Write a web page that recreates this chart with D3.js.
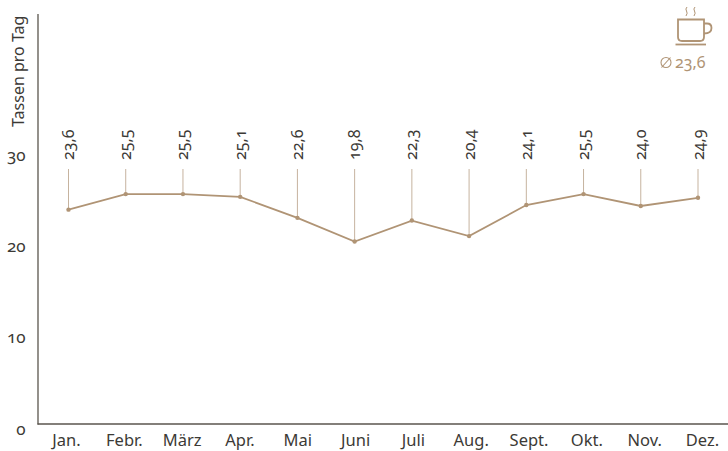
<!DOCTYPE html>
<html>
<head>
<meta charset="utf-8">
<script src="https://d3js.org/d3.v7.min.js"></script>
<style>
  html, body { margin: 0; padding: 0; background: #fff; }
  text { font-family: "Noto Sans", "Open Sans", sans-serif; font-variant-numeric: oldstyle-nums; font-feature-settings: "onum"; fill: #3c3a36; }
  .axis .domain { stroke: #5a554e; stroke-width: 1.3px; }
  .axis .tick line { display: none; }
</style>
</head>
<body>
<div id="chart"></div>
<script>
const months = ["Jan.", "Febr.", "März", "Apr.", "Mai", "Juni", "Juli", "Aug.", "Sept.", "Okt.", "Nov.", "Dez."];
const values = [23.5, 25.2, 25.2, 24.9, 22.6, 20.0, 22.3, 20.6, 24.0, 25.2, 23.9, 24.8];
const valueLabels = ["23,6", "25,5", "25,5", "25,1", "22,6", "19,8", "22,3", "20,4", "24,1", "25,5", "24,0", "24,9"];
const yTicks = [0, 10, 20, 30];
const average = "23,6";

const width = 728, height = 451;
const brown = "#b09475";

const svg = d3.select("#chart").append("svg")
    .attr("width", width)
    .attr("height", height)
    .style("display", "block");

const x = d3.scalePoint().domain(months).range([68.5, 698]);
// month labels sit on a slightly wider spacing than the points
const xLabels = d3.scalePoint().domain(months).range([66, 702]);
const y = d3.scaleLinear().domain([0, 45]).range([424, 13.5]);

/* Axes */
const xAxis = d3.axisBottom(xLabels).tickSize(0).tickPadding(8);
const yAxis = d3.axisLeft(y).tickValues(yTicks).tickSize(0).tickPadding(12);

svg.append("g")
    .attr("class", "x axis")
    .attr("transform", "translate(0,424)")
    .call(xAxis)
    .call(g => g.select(".domain").attr("d", "M37.5,0H728"))
    .selectAll("text")
    .style("font-size", "16.5px")
    .attr("dy", "0.85em");

svg.append("g")
    .attr("class", "y axis")
    .attr("transform", "translate(37.5,0)")
    .call(yAxis)
    .selectAll("text")
    .style("font-size", "17px")
    .attr("x", -12)
    .attr("dy", "0.6em");

svg.append("text")
    .attr("transform", "translate(24,127) rotate(-90)")
    .style("font-size", "16px")
    .text("Tassen pro Tag");

/* Drop lines from the labels */
svg.append("g").selectAll("line")
    .data(values).enter()
    .append("line")
    .attr("x1", (d, i) => x(months[i]))
    .attr("x2", (d, i) => x(months[i]))
    .attr("y1", 169)
    .attr("y2", d => y(d))
    .attr("stroke", "#c6b39f")
    .attr("stroke-width", 1);

/* Line and points */
const line = d3.line()
    .x((d, i) => x(months[i]))
    .y(d => y(d));

svg.append("path")
    .datum(values)
    .attr("d", line)
    .attr("fill", "none")
    .attr("stroke", brown)
    .attr("stroke-width", 1.8);

svg.append("g").selectAll("circle")
    .data(values).enter()
    .append("circle")
    .attr("cx", (d, i) => x(months[i]))
    .attr("cy", d => y(d))
    .attr("r", 2.2)
    .attr("fill", brown);

/* Value labels */
svg.append("g").selectAll("text")
    .data(valueLabels).enter()
    .append("text")
    .attr("transform", (d, i) => `translate(${x(months[i]) + 5.5},160) rotate(-90)`)
    .style("font-size", "16px")
    .text(d => d);

/* Coffee cup */
const cup = svg.append("g")
    .attr("fill", "none")
    .attr("stroke", brown)
    .attr("stroke-width", 1.8);

cup.append("path").attr("d", "M678,19.5H704V37Q704,41 700,41H682Q678,41 678,37Z");
cup.append("path").attr("d", "M704,23.5H707Q711.5,23.5 711.5,28Q711.5,33.5 704,33.5");
cup.append("path").attr("d", "M675.5,44.5H706");
cup.append("path").attr("stroke-width", 1).attr("d", "M687,7Q685,9 686.5,11Q688,13 686,16");
cup.append("path").attr("stroke-width", 1).attr("d", "M695,7Q693,9 694.5,11Q696,13 694,16");

/* Average */
cup.append("circle").attr("cx", 666).attr("cy", 62.5).attr("r", 5).attr("stroke-width", 1.1);
cup.append("path").attr("stroke-width", 1.1).attr("d", "M661.5,67.5L670.5,57.5");

svg.append("text")
    .attr("x", 675)
    .attr("y", 68)
    .style("font-size", "16px")
    .style("fill", brown)
    .text(average);
</script>
</body>
</html>
